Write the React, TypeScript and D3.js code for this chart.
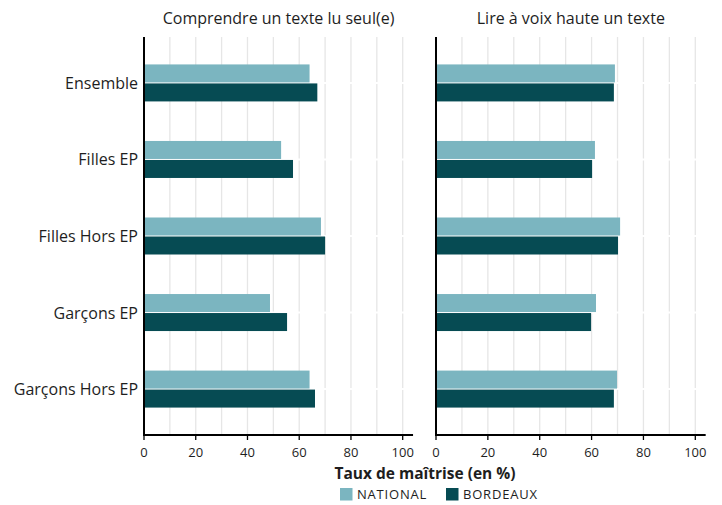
import React from "react";
import * as d3 from "d3";

const categories = ["Ensemble", "Filles EP", "Filles Hors EP", "Garçons EP", "Garçons Hors EP"];
const panelTitles = ["Comprendre un texte lu seul(e)", "Lire à voix haute un texte"];
const seriesNames = ["NATIONAL", "BORDEAUX"];
const colors = ["#7bb5c0", "#064b53"];
// values per panel: [national, bordeaux] per category
const comprendreNational = [64, 53, 68.4, 48.7, 64];
const comprendreBordeaux = [67, 57.6, 70, 55.3, 66.1];
const lireNational = [69, 61.3, 71, 61.7, 69.8];
const lireBordeaux = [68.6, 60.2, 70.2, 59.8, 68.6];
const xTicks = [0, 20, 40, 60, 80, 100];
const gridTicks = d3.range(10, 101, 10);

const panels = [
  { title: panelTitles[0], series: [comprendreNational, comprendreBordeaux], x0: 144, x100: 402.7 },
  { title: panelTitles[1], series: [lireNational, lireBordeaux], x0: 436, x100: 695.3 },
];

const FONT = "'Open Sans', Lato, sans-serif";
const TOP = 37;
const BOTTOM = 435;

export default function App() {
  const y = d3.scalePoint<string>().domain(categories).range([TOP, BOTTOM]).padding(0.6);
  const barH = 18;
  const gap = 1;
  return (
    <svg width={722} height={505} style={{ position: "absolute", left: 0, top: 0, background: "#fff" }} fontFamily={FONT}>
      {panels.map((p, pi) => {
        const x = d3.scaleLinear().domain([0, 100]).range([p.x0, p.x100]);
        const xEnd = x(104);
        return (
          <g key={pi}>
            <text x={(p.x0 + xEnd) / 2} y={24} textAnchor="middle" fontSize={16} fill="#1e1e1e">{p.title}</text>
            {gridTicks.map((t) => (
              <line key={t} x1={x(t)} x2={x(t)} y1={TOP} y2={BOTTOM} stroke="#e6e6e6" strokeWidth={1.3} />
            ))}
            {categories.map((c) => {
              const cy = y(c)!;
              return (
                <g key={c}>
                  <line x1={p.x0} x2={xEnd} y1={cy} y2={cy} stroke="#fff" strokeWidth={2} />
                  {p.series.map((s, si) => {
                    const v = s[categories.indexOf(c)];
                    const yy = si === 0 ? cy - gap / 2 - barH : cy + gap / 2;
                    return <rect key={si} x={x(0)} y={yy} width={x(v) - x(0)} height={barH} fill={colors[si]} />;
                  })}
                </g>
              );
            })}
            <line x1={p.x0} x2={p.x0} y1={TOP} y2={BOTTOM + 1} stroke="#000" strokeWidth={2} />
            <line x1={p.x0 - 1} x2={xEnd} y1={BOTTOM} y2={BOTTOM} stroke="#000" strokeWidth={2} />
            {xTicks.map((t) => (
              <g key={t}>
                <line x1={x(t)} x2={x(t)} y1={BOTTOM} y2={BOTTOM + 5} stroke="#000" strokeWidth={1.3} />
                <text x={x(t)} y={457} textAnchor="middle" fontSize={13} fill="#1e1e1e">{t}</text>
              </g>
            ))}
          </g>
        );
      })}
      {categories.map((c) => (
        <text key={c} x={138} y={y(c)! + 6} textAnchor="end" fontSize={16} fill="#1e1e1e">{c}</text>
      ))}
      <text x={425} y={479} textAnchor="middle" fontSize={15.5} fontWeight="bold" fill="#1e1e1e">Taux de maîtrise (en %)</text>
      {seriesNames.map((s, i) => {
        const lx = i === 0 ? 340 : 446;
        return (
          <g key={s}>
            <rect x={lx} y={488} width={12.5} height={12.5} fill={colors[i]} />
            <text x={lx + 17} y={499} fontSize={13} letterSpacing={0.8} fill="#1e1e1e">{s}</text>
          </g>
        );
      })}
    </svg>
  );
}
